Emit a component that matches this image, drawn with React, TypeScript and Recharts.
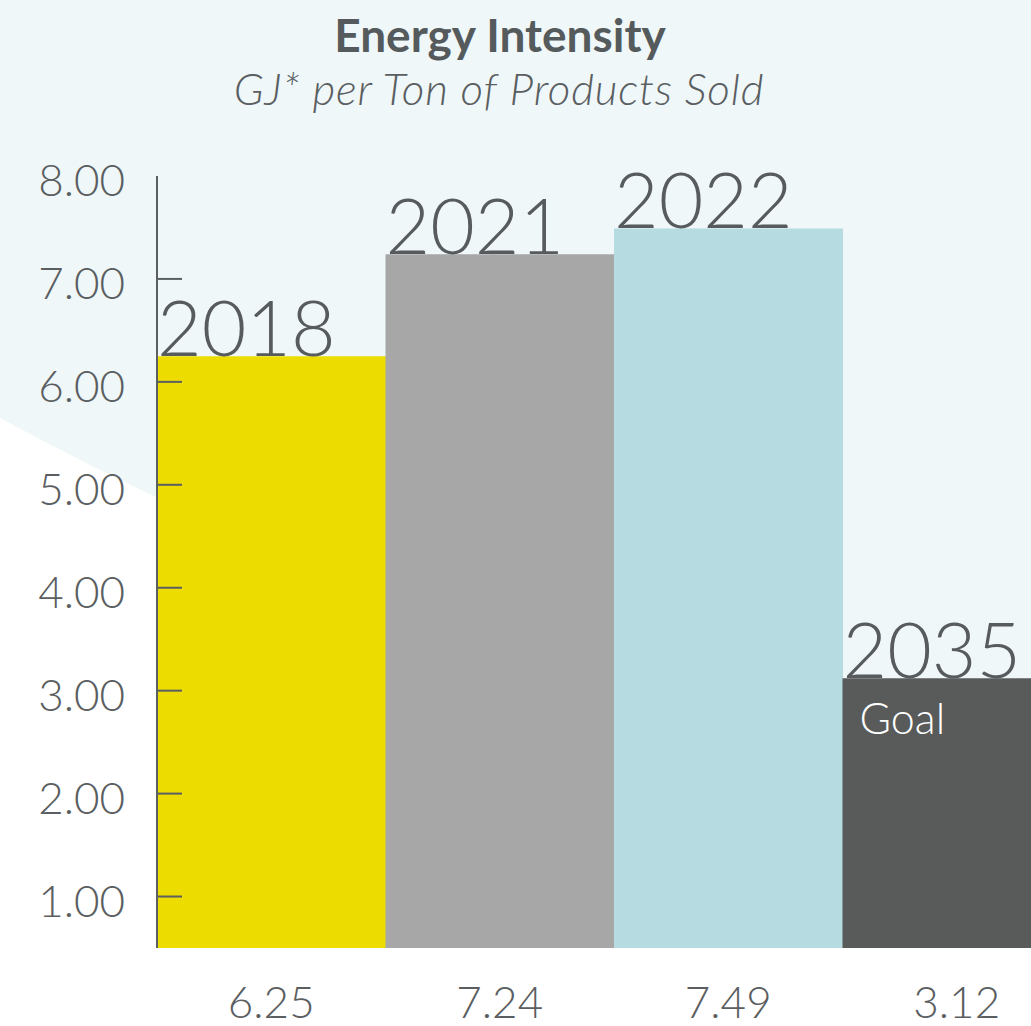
import React from 'react';
import { BarChart, Bar, XAxis, YAxis, Cell, LabelList } from 'recharts';

const years = ['2018', '2021', '2022', '2035'];
const intensity = [6.25, 7.24, 7.49, 3.12];
const notes = ['', '', '', 'Goal'];
const barColors = ['#ecdc00', '#a6a7a6', '#b6dbe0', '#595b5b'];
const yTicks = [1, 2, 3, 4, 5, 6, 7, 8];
const title = 'Energy Intensity';
const subtitle = 'GJ* per Ton of Products Sold';

const data = years.map((year, i) => ({ year, value: intensity[i], note: notes[i] }));

const FONT = 'Lato, "Open Sans", sans-serif';
const TEXT = '#5a5e61';
const AXIS = '#5b5f62';

const YTick = (props: any) => {
  const { x, y, payload } = props;
  return (
    <g>
      <text x={x} y={y} dy={20} textAnchor="end" fontFamily={FONT} fontWeight={300} fontSize={44} fill={TEXT}>
        {Number(payload.value).toFixed(2)}
      </text>
      {payload.value !== 8 && (
        <line x1={x + 32} x2={x + 57} y1={y} y2={y} stroke={AXIS} strokeWidth={2} />
      )}
    </g>
  );
};

const XTick = (props: any) => {
  const { x, y, index } = props;
  const v = data[index] ? data[index].value : 0;
  return (
    <text x={x} y={y} dy={30} textAnchor="middle" fontFamily={FONT} fontWeight={300} fontSize={44} fill={TEXT}>
      {v.toFixed(2)}
    </text>
  );
};

const YearLabel = (props: any) => {
  const { x, y, value } = props;
  return (
    <text x={x} y={y} dx={0} textAnchor="start" fontFamily={FONT} fontWeight={300} fontSize={77} fill="#575b5d">
      {value}
    </text>
  );
};

const NoteLabel = (props: any) => {
  const { x, y, value } = props;
  if (!value) return null;
  return (
    <text x={x} y={y} dx={17} dy={56} textAnchor="start" fontFamily={FONT} fontWeight={300} fontSize={43} fill="#ffffff">
      {value}
    </text>
  );
};

export default function App() {
  return (
    <div style={{ position: 'fixed', left: 0, top: 0, width: 1031, height: 1026, overflow: 'hidden', background: '#ffffff' }}>
      <svg width={1031} height={1026} style={{ position: 'absolute', left: 0, top: 0 }}>
        <path d="M0 0 H1031 V745 Q520 699 0 418 Z" fill="#eff7f9" />
        <text x={500} y={52} textAnchor="middle" fontFamily={FONT} fontWeight={700} fontSize={46} fill="#555a5c">
          {title}
        </text>
        <text x={499} y={105} textAnchor="middle" fontFamily={FONT} fontWeight={300} fontStyle="italic" fontSize={44} letterSpacing={0.8} fill="#5a5e61">
          {subtitle}
        </text>
      </svg>
      <div style={{ position: 'absolute', left: 0, top: 0 }}>
        <BarChart width={1071} height={1026} data={data} margin={{ top: 176, right: 0, left: 0, bottom: 0 }} barCategoryGap={0}>
          <Bar dataKey="value" isAnimationActive={false}>
            {data.map((d, i) => (
              <Cell key={d.year} fill={barColors[i]} />
            ))}
            <LabelList dataKey="year" content={YearLabel} />
            <LabelList dataKey="note" content={NoteLabel} />
          </Bar>
          <XAxis dataKey="year" height={78} axisLine={false} tickLine={false} tickSize={0} tickMargin={40} tick={XTick} interval={0} />
          <YAxis
            type="number"
            domain={[0.5, 8]}
            ticks={yTicks}
            width={157}
            axisLine={{ stroke: AXIS, strokeWidth: 2 }}
            tickLine={false}
            tickSize={0}
            tickMargin={32}
            tick={YTick}
            interval={0}
            allowDataOverflow
          />
        </BarChart>
      </div>
    </div>
  );
}
